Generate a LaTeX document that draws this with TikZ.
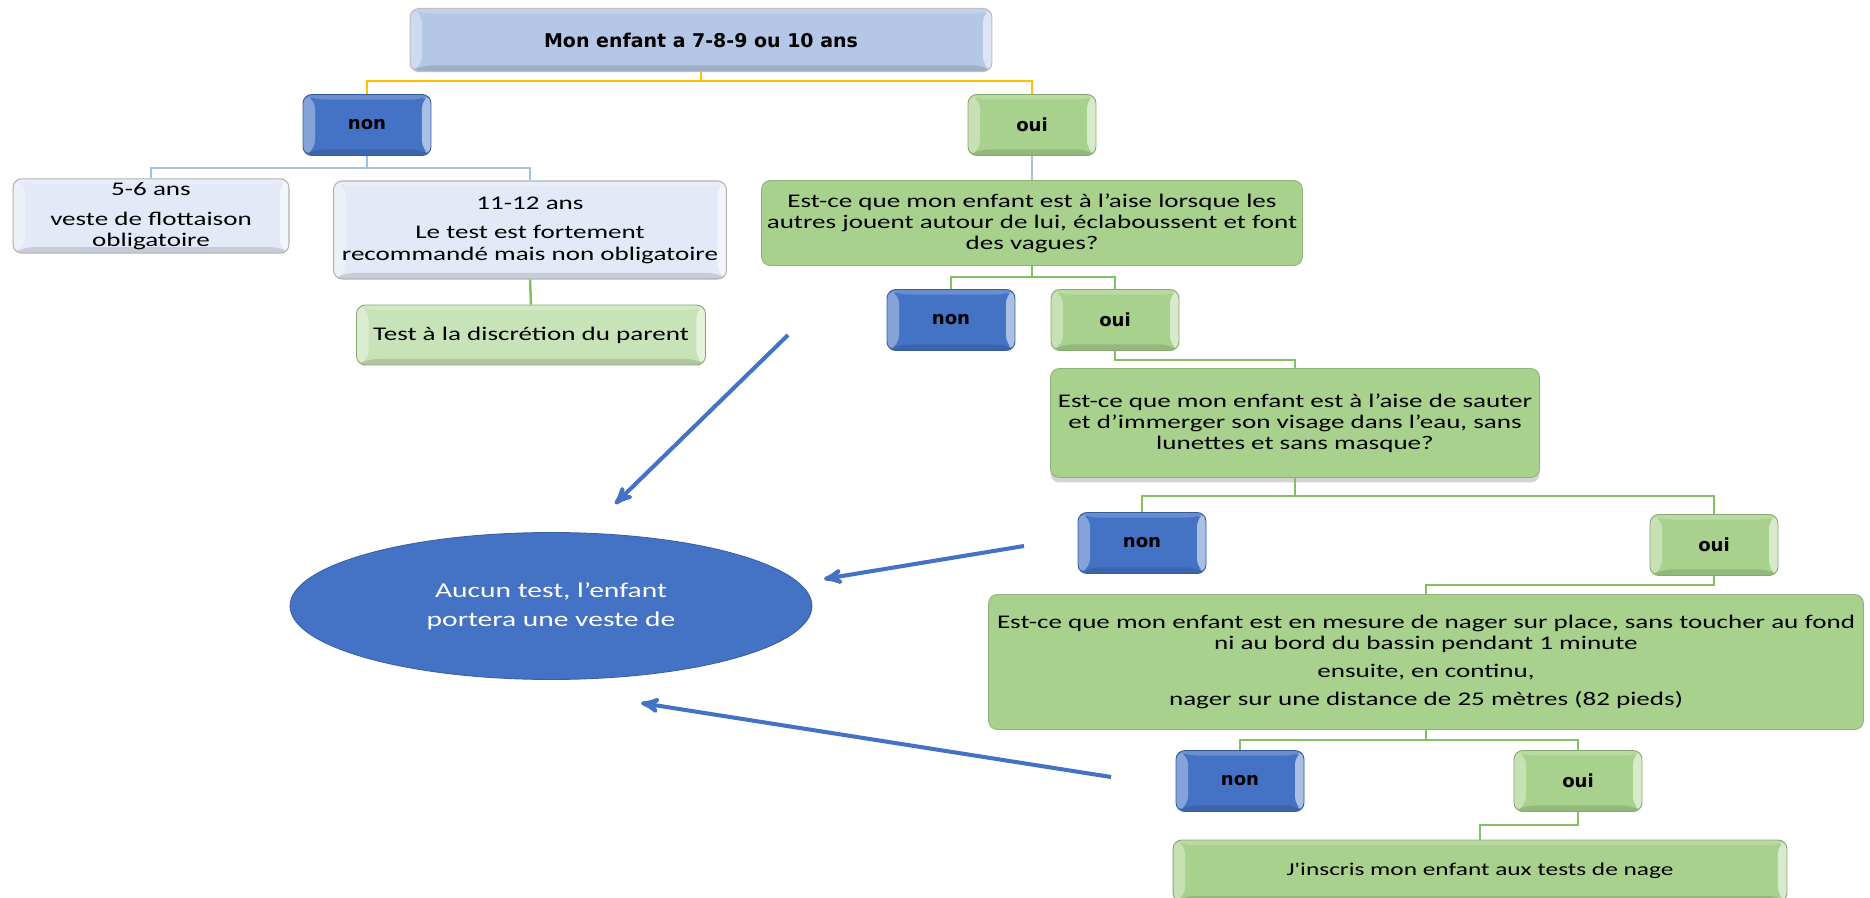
\documentclass[tikz,border=0pt]{standalone}
\usepackage{fontspec}
\setmainfont[FakeStretch=1.4, Ligatures=TeXOff]{Carlito}
\newfontfamily\answerfont{DejaVu Sans}
\usetikzlibrary{arrows, shadows, shapes.geometric}
\definecolor{nonblue}{HTML}{4472C4}
\definecolor{ouigreen}{HTML}{A9D18E}
\definecolor{topblue}{HTML}{B4C7E7}
\definecolor{agepale}{HTML}{E3E9F7}
\definecolor{parentgreen}{HTML}{C9E3B8}
\definecolor{linkyellow}{HTML}{FFC000}
\definecolor{linkblue}{HTML}{9DC3E6}
\definecolor{linkgreen}{HTML}{84BF63}
\tikzset{
>=stealth', % arrow heads for the big blue arrows
bevel/.style={path picture={
  \coordinate (bsw) at (path picture bounding box.south west);
  \coordinate (bse) at (path picture bounding box.south east);
  \coordinate (bne) at (path picture bounding box.north east);
  \coordinate (bnw) at (path picture bounding box.north west);
  \coordinate (isw) at ([shift={(.24cm,.12cm)}]bsw);
  \coordinate (ise) at ([shift={(-.18cm,.12cm)}]bse);
  \coordinate (ine) at ([shift={(-.18cm,-.1cm)}]bne);
  \coordinate (inw) at ([shift={(.24cm,-.1cm)}]bnw);
  \fill[white,opacity=.35] (bnw) -- (bsw) -- (isw) -- (inw) -- cycle;
  \fill[white,opacity=.55] (bne) -- (bse) -- (ise) -- (ine) -- cycle;
  \fill[white,opacity=.2] (bnw) -- (bne) -- (ine) -- (inw) -- cycle;
  \fill[black,opacity=.12] (bsw) -- (bse) -- (ise) -- (isw) -- cycle;
}},
box/.style={rectangle, rounded corners=5pt, align=center, inner sep=2pt,
  font=\fontsize{11pt}{12pt}\selectfont},
answer/.style={box, bevel, fill=#1, draw=#1!80!black, line width=.5pt,
  minimum width=2.56cm, minimum height=1.22cm,
  font=\answerfont\bfseries\fontsize{10.3pt}{12pt}\selectfont},
agebox/.style={box, bevel, fill=agepale, draw=black!30, line width=.6pt},
question/.style={box, fill=ouigreen, draw=ouigreen!85!black, line width=.5pt},
link/.style={line width=1.4pt, #1},
bigarrow/.style={->, nonblue, line width=2.3pt},
}
\begin{document}
\begin{tikzpicture}[x=0.02cm, y=-0.02cm]
  \useasboundingbox (0,0) rectangle (1870,898);

  % top of the tree
  \node[box, bevel, fill=topblue, draw=black!25, line width=.6pt, minimum width=11.64cm, minimum height=1.26cm,
    font=\answerfont\bfseries\fontsize{10.8pt}{13pt}\selectfont] (age) at (701,40) {Mon enfant a 7-8-9 ou 10 ans};
  \node[answer=nonblue] (non1) at (367,125) {non};
  \node[answer=ouigreen] (oui1) at (1032,125) {oui};

  % left branch
  \node[agebox, minimum width=5.52cm, minimum height=1.42cm] (young) at (151,216)
    {5-6 ans\\[5pt] veste de flottaison\\ obligatoire};
  \node[agebox, minimum width=7.86cm, minimum height=1.96cm] (older) at (530,230)
    {11-12 ans\\[5pt] Le test est fortement\\ recommandé mais non obligatoire};
  \node[box, bevel, fill=parentgreen, draw=ouigreen!80!black, line width=.5pt,
    minimum width=6.98cm, minimum height=1.2cm] (parent) at (531,335) {Test à la discrétion du parent};

  % questions
  \node[question, minimum width=10.82cm, minimum height=1.7cm] (q1) at (1032,223)
    {Est-ce que mon enfant est à l’aise lorsque les\\ autres jouent autour de lui, éclaboussent et font\\ des vagues?};
  \node[answer=nonblue] (non2) at (951,320) {non};
  \node[answer=ouigreen] (oui2) at (1115,320) {oui};

  \node[question, minimum width=9.78cm, minimum height=2.18cm,
    drop shadow={shadow xshift=0cm, shadow yshift=-.1cm, opacity=.35}] (q2) at (1295,423)
    {Est-ce que mon enfant est à l’aise de sauter\\ et d’immerger son visage dans l’eau, sans\\ lunettes et sans masque?};
  \node[answer=nonblue] (non3) at (1142,543) {non};
  \node[answer=ouigreen] (oui3) at (1714,545) {oui};

  \node[question, minimum width=17.5cm, minimum height=2.7cm] (q3) at (1426,662)
    {Est-ce que mon enfant est en mesure de nager sur place, sans toucher au fond\\ ni au bord du bassin pendant 1 minute\\[4pt]
     ensuite, en continu,\\[4pt] nager sur une distance de 25 mètres (82 pieds)};
  \node[answer=nonblue] (non4) at (1240,781) {non};
  \node[answer=ouigreen] (oui4) at (1578,781) {oui};

  \node[box, bevel, fill=ouigreen, draw=ouigreen!80!black, line width=.5pt,
    minimum width=12.28cm, minimum height=1.24cm, font=\fontsize{10.3pt}{12pt}\selectfont] (inscris) at (1480,871)
    {J'inscris mon enfant aux tests de nage};

  % outcome
  \node[ellipse, fill=nonblue, draw=nonblue!85!black, line width=.5pt, minimum width=10.44cm, minimum height=2.94cm,
    text=white, align=center, font=\fontsize{12pt}{16.5pt}\selectfont] (aucun) at (551,606)
    {Aucun test, l’enfant\\ portera une veste de};

  % tree links
  \draw[link=linkyellow] (age.south) -- ++(0,9) -| (non1.north);
  \draw[link=linkyellow] (age.south) -- ++(0,9) -| (oui1.north);
  \draw[link=linkblue] (non1.south) -- ++(0,12) -| (young.north);
  \draw[link=linkblue] (non1.south) -- ++(0,12) -| (older.north);
  \draw[link=linkblue] (oui1.south) -- (q1.north);
  \draw[link=linkgreen] (older.south) -- (parent.north);
  \draw[link=linkgreen] (q1.south) -- ++(0,11) -| (non2.north);
  \draw[link=linkgreen] (q1.south) -- ++(0,11) -| (oui2.north);
  \draw[link=linkgreen] (oui2.south) -- ++(0,9) -| (q2.north);
  \draw[link=linkgreen] (q2.south) -- ++(0,18) -| (non3.north);
  \draw[link=linkgreen] (q2.south) -- ++(0,18) -| (oui3.north);
  \draw[link=linkgreen] (oui3.south) -- ++(0,9) -| (q3.north);
  \draw[link=linkgreen] (q3.south) -- ++(0,10) -| (non4.north);
  \draw[link=linkgreen] (q3.south) -- ++(0,10) -| (oui4.north);
  \draw[link=linkgreen] (oui4.south) -- ++(0,13) -| (inscris.north);

  % arrows to the outcome
  \coordinate (from1) at (788,335);
  \coordinate (to1) at (615,504);
  \coordinate (from2) at (1024,546);
  \coordinate (to2) at (824,579);
  \coordinate (from3) at (1111,777);
  \coordinate (to3) at (641,703);
  \draw[bigarrow] (from1) -- (to1);
  \draw[bigarrow] (from2) -- (to2);
  \draw[bigarrow] (from3) -- (to3);
\end{tikzpicture}
\end{document}
